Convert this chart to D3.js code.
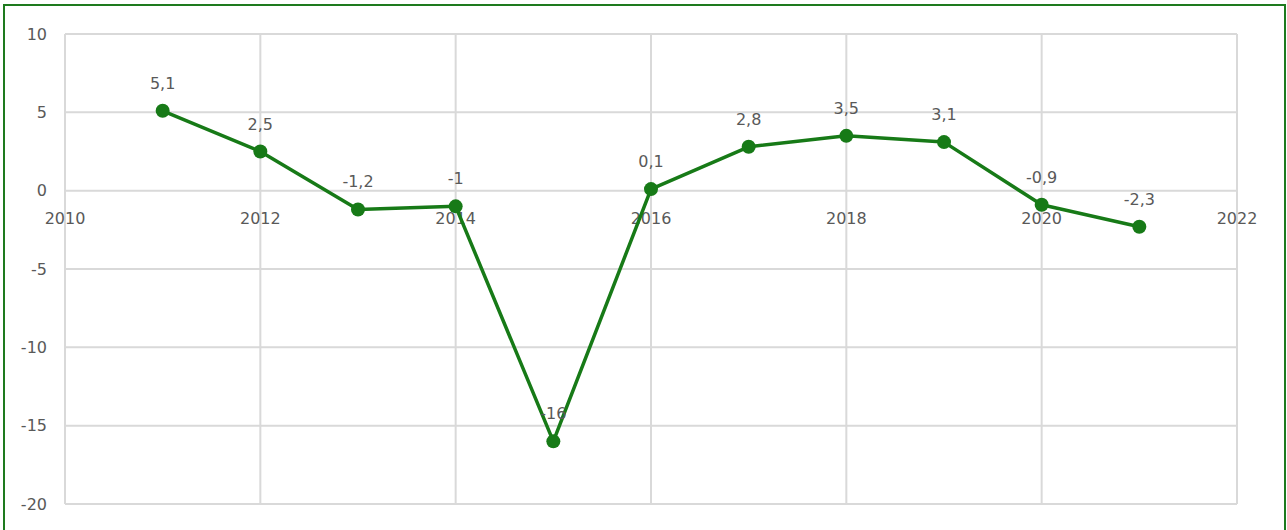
<!DOCTYPE html>
<html>
<head>
<meta charset="utf-8">
<script src="https://cdn.jsdelivr.net/npm/d3@7"></script>
<style>
  html, body { margin: 0; padding: 0; background: #fff; }
  svg { display: block; }
  text { font-family: "DejaVu Sans", Verdana, sans-serif; fill: #595959; }
</style>
</head>
<body>
<div id="root"></div>
<script>
const WIDTH = 1287;
const HEIGHT = 530;
const margin = { left: 65, right: 50, top: 34, bottom: 26 };

const years = [2011, 2012, 2013, 2014, 2015, 2016, 2017, 2018, 2019, 2020, 2021];
const values = [5.1, 2.5, -1.2, -1, -16, 0.1, 2.8, 3.5, 3.1, -0.9, -2.3];
const xTicks = [2010, 2012, 2014, 2016, 2018, 2020, 2022];
const yTicks = [10, 5, 0, -5, -10, -15, -20];

const data = years.map((y, i) => ({ year: y, value: values[i] }));
const fmt = v => String(v).replace('.', ',');

const x = d3.scaleLinear().domain([2010, 2022]).range([margin.left, WIDTH - margin.right]);
const y = d3.scaleLinear().domain([-20, 10]).range([HEIGHT - margin.bottom, margin.top]);

const svg = d3.select('#root').append('svg')
    .attr('width', WIDTH)
    .attr('height', HEIGHT);

// outer green frame
svg.append('rect')
    .attr('x', 4).attr('y', 5)
    .attr('width', 1281).attr('height', 540)
    .attr('fill', 'none')
    .attr('stroke', '#1e7a1e')
    .attr('stroke-width', 2);

// grid
svg.append('g')
    .selectAll('line')
    .data(yTicks)
    .join('line')
        .attr('x1', x(2010)).attr('x2', x(2022))
        .attr('y1', d => y(d)).attr('y2', d => y(d))
        .attr('stroke', '#d9d9d9')
        .attr('stroke-width', 2);

svg.append('g')
    .selectAll('line')
    .data(xTicks)
    .join('line')
        .attr('x1', d => x(d)).attr('x2', d => x(d))
        .attr('y1', y(10)).attr('y2', y(-20))
        .attr('stroke', '#d9d9d9')
        .attr('stroke-width', 2);

// y labels
svg.append('g')
    .selectAll('text')
    .data(yTicks)
    .join('text')
        .attr('x', 47)
        .attr('y', d => y(d))
        .attr('dy', '0.35em')
        .attr('text-anchor', 'end')
        .style('font-size', '16px')
        .text(d => d);

// x labels, sitting under the zero line
svg.append('g')
    .selectAll('text')
    .data(xTicks)
    .join('text')
        .attr('x', d => x(d))
        .attr('y', y(0) + 33)
        .attr('text-anchor', 'middle')
        .style('font-size', '16px')
        .text(d => d);

const line = d3.line()
    .x(d => x(d.year))
    .y(d => y(d.value));

svg.append('path')
    .datum(data)
    .attr('d', line)
    .attr('fill', 'none')
    .attr('stroke', '#177a17')
    .attr('stroke-width', 3.5)
    .attr('stroke-linejoin', 'round');

svg.append('g')
    .selectAll('circle')
    .data(data)
    .join('circle')
        .attr('cx', d => x(d.year))
        .attr('cy', d => y(d.value))
        .attr('r', 7)
        .attr('fill', '#177a17');

svg.append('g')
    .selectAll('text')
    .data(data)
    .join('text')
        .attr('x', d => x(d.year))
        .attr('y', d => y(d.value) - 22)
        .attr('text-anchor', 'middle')
        .style('font-size', '16px')
        .text(d => fmt(d.value));
</script>
</body>
</html>
